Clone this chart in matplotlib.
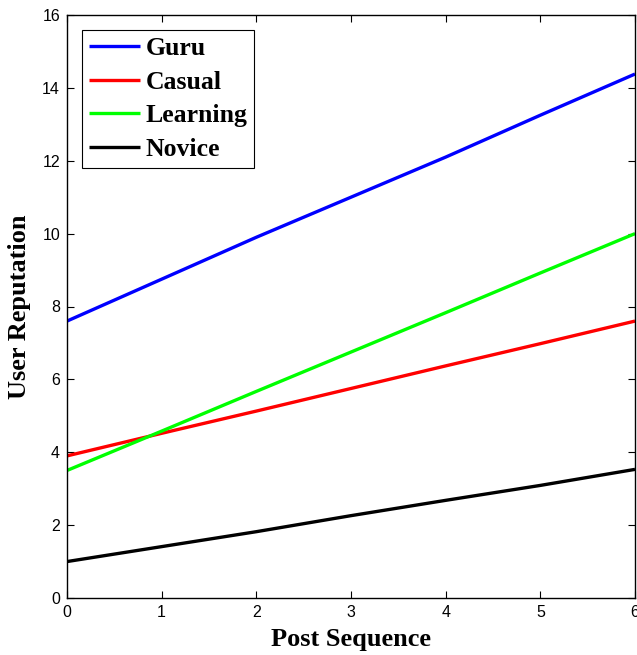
import matplotlib
matplotlib.use("Agg")
import matplotlib.pyplot as plt
from matplotlib.font_manager import FontProperties

x = [0, 1, 2, 3, 4, 5, 6]
series_names = ["Guru", "Casual", "Learning", "Novice"]
guru = [7.6, 8.75, 9.9, 11.0, 12.1, 13.25, 14.38]
casual = [3.9, 4.52, 5.13, 5.75, 6.37, 6.98, 7.6]
learning = [3.5, 4.58, 5.67, 6.75, 7.83, 8.92, 10.0]
novice = [1.0, 1.41, 1.82, 2.26, 2.68, 3.09, 3.53]
colors = ["#0000ff", "#ff0000", "#00ff00", "#000000"]

fig = plt.figure(figsize=(6.37, 6.55), dpi=100)
ax = fig.add_axes([67/637, 57/655, 568/637, 583/655])

for name, vals, c in zip(series_names, [guru, casual, learning, novice], colors):
    ax.plot(x, vals, color=c, lw=2.4, label=name, solid_capstyle="butt")

ax.set_xlim(0, 6)
ax.set_ylim(0, 16)
ax.set_xticks(range(0, 7))
ax.set_yticks(range(0, 17, 2))
ax.tick_params(direction="in", top=True, right=True, length=5, width=0.8,
               labelsize=11.5, pad=5)
for lab in ax.get_xticklabels() + ax.get_yticklabels():
    lab.set_family("Liberation Sans")
for s in ax.spines.values():
    s.set_linewidth(1.0)

bold = FontProperties(family="Liberation Serif", weight="bold", size=19)
ax.set_xlabel("Post Sequence", fontproperties=bold, labelpad=6)
ax.set_ylabel("User Reputation", fontproperties=bold, labelpad=8)

legfont = FontProperties(family="Liberation Serif", weight="bold", size=18.5)
leg = ax.legend(loc="upper left", prop=legfont,
                frameon=True, fancybox=False, edgecolor="black", framealpha=1,
                handlelength=2.0, handletextpad=0.2, labelspacing=0.42,
                borderpad=0.25, borderaxespad=0.6)
leg.get_frame().set_linewidth(0.8)

fig.savefig("out.png", dpi=100)
